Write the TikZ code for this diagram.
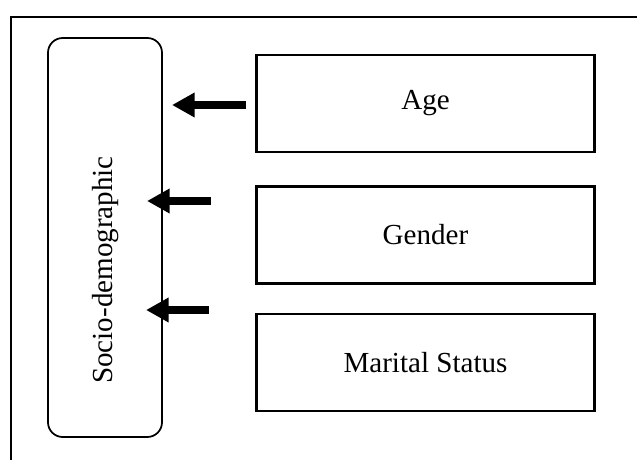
\documentclass[tikz,border=0pt]{standalone}
\usepackage{fontspec}
\setmainfont{Liberation Serif}
\usetikzlibrary{arrows.meta}
\begin{document}
\begin{tikzpicture}[x=0.75pt,y=-0.75pt,
  every node/.style={font=\fontsize{21.8}{26}\selectfont},
  factor/.style={draw,line width=1.6pt,minimum width=253.5pt,minimum height=72.75pt,inner sep=0pt},
  bigarrow/.style={line width=5.6pt,-{Triangle[length=17pt,width=17.5pt]}},
  frameline/.style={line width=1pt}]
\useasboundingbox (0,0) rectangle (637,460);
\coordinate (fA) at (11,460);
\coordinate (fB) at (11,17);
\coordinate (fC) at (637,17);
\draw[frameline] (fA) -- (fB) -- (fC);
\draw[line width=1.3pt,rounded corners=11pt] (48,38) rectangle (162,437);
\node[rotate=90] (socio) at (106,270) {Socio-demographic};
\node[factor] (age) at (425.5,103.5) {Age};
\node[factor] (gender) at (425.5,235) {Gender};
\node[factor] (marital) at (425.5,362.5) {Marital Status};
\coordinate (t1) at (246,105);
\coordinate (h1) at (172,105);
\coordinate (t2) at (211,201);
\coordinate (h2) at (147,201);
\coordinate (t3) at (209,310);
\coordinate (h3) at (146,310);
\draw[bigarrow] (t1) -- (h1);
\draw[bigarrow] (t2) -- (h2);
\draw[bigarrow] (t3) -- (h3);
\end{tikzpicture}
\end{document}
